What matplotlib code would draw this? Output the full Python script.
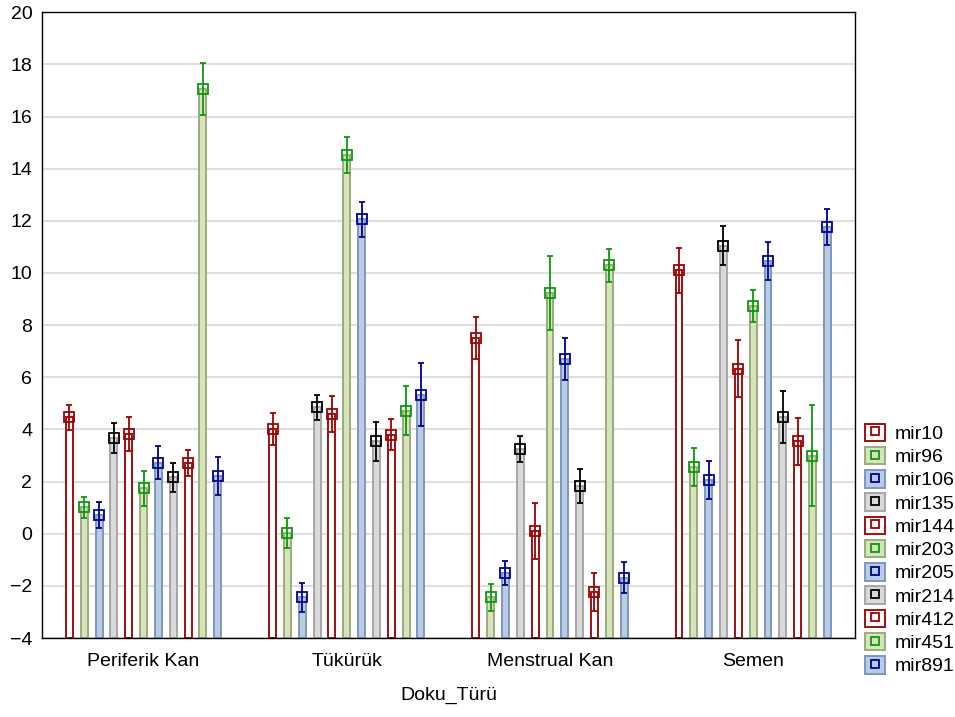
import numpy as np
import matplotlib
matplotlib.use("Agg")
import matplotlib.pyplot as plt
from matplotlib.patches import Rectangle
from matplotlib.lines import Line2D

plt.rcParams["font.family"] = ["Liberation Sans", "DejaVu Sans"]

# ── data ─────────────────────────────────────────────────────────────────────
groups = ["Periferik Kan", "Tükürük", "Menstrual Kan", "Semen"]
series = ["mir10", "mir96", "mir106", "mir135", "mir144", "mir203",
          "mir205", "mir214", "mir412", "mir451", "mir891"]

mir10 = [4.46, 4.03, 7.51, 10.10]
mir96 = [1.01, 0.03, -2.43, 2.56]
mir106 = [0.71, -2.44, -1.50, 2.06]
mir135 = [3.67, 4.85, 3.25, 11.04]
mir144 = [3.82, 4.60, 0.10, 6.33]
mir203 = [1.75, 14.53, 9.24, 8.74]
mir205 = [2.73, 12.06, 6.70, 10.47]
mir214 = [2.17, 3.54, 1.83, 4.49]
mir412 = [2.73, 3.80, -2.24, 3.54]
mir451 = [17.04, 4.72, 10.29, 2.99]
mir891 = [2.23, 5.34, -1.68, 11.78]

err10 = [0.47, 0.62, 0.80, 0.85]
err96 = [0.41, 0.56, 0.52, 0.73]
err106 = [0.50, 0.56, 0.45, 0.72]
err135 = [0.57, 0.48, 0.50, 0.75]
err144 = [0.65, 0.70, 1.07, 1.10]
err203 = [0.67, 0.69, 1.43, 0.60]
err205 = [0.63, 0.67, 0.80, 0.73]
err214 = [0.55, 0.74, 0.64, 1.00]
err412 = [0.50, 0.60, 0.72, 0.90]
err451 = [1.00, 0.93, 0.63, 1.94]
err891 = [0.73, 1.19, 0.60, 0.69]

means = [mir10, mir96, mir106, mir135, mir144, mir203,
         mir205, mir214, mir412, mir451, mir891]
errs = [err10, err96, err106, err135, err144, err203,
        err205, err214, err412, err451, err891]

# style per colour family: (bar fill, bar edge, marker colour)
RED = ("#ffffff", "#9e1010", "#a00000")
GREEN = ("#d7e3bb", "#9aab7c", "#0c980c")
BLUE = ("#b8cce4", "#7d97bd", "#000090")
GREY = ("#d9d9d9", "#a6a6a6", "#000000")
styles = [RED, GREEN, BLUE, GREY, RED, GREEN, BLUE, GREY, RED, GREEN, BLUE]

YMIN, YMAX = -4, 20

# ── figure ───────────────────────────────────────────────────────────────────
fig = plt.figure(figsize=(9.55, 7.17), dpi=100)
ax = fig.add_axes([0.044, 0.110, 0.851, 0.873])

x = np.arange(len(groups))
step = 0.073
width = 0.034
n = len(series)

handles = []
for i, (name, m, e, st) in enumerate(zip(series, means, errs, styles)):
    fill, edge, mc = st
    xs = x + (i - (n - 1) / 2) * step
    m = np.array(m)
    ax.bar(xs, m - YMIN, bottom=YMIN, width=width, color=fill,
           edgecolor=edge, linewidth=1.4, zorder=2)
    ax.errorbar(xs, m, yerr=e, fmt="s", mfc="none", mec=mc, ms=7,
                mew=1.3, ecolor=mc, elinewidth=1.3, capsize=2.5,
                capthick=1.3, zorder=3)
    patch = Rectangle((0, 0), 1, 1, facecolor=fill, edgecolor=edge, linewidth=1.4)
    mark = Line2D([], [], marker="s", mfc="none", mec=mc, ms=6, mew=1.3,
                  linestyle="None")
    handles.append((patch, mark))

ax.set_xlim(-0.5, 3.5)
ax.set_ylim(YMIN, YMAX)
ax.set_yticks(np.arange(YMIN, YMAX + 1, 2))
ax.set_xticks(x)
ax.set_xticklabels(groups)
ax.tick_params(axis="x", direction="in", length=4, width=1, labelsize=14, pad=11)
ax.tick_params(axis="y", length=0, labelsize=14, pad=7)
ax.yaxis.grid(True, color="#d9d9d9", linewidth=1.2, zorder=0)
ax.set_axisbelow(True)
for sp in ax.spines.values():
    sp.set_color("black")
    sp.set_linewidth(1.0)
ax.set_xlabel("Doku_Türü", fontsize=14, labelpad=12)

fig.legend(handles, series, loc="upper left", bbox_to_anchor=(0.898, 0.42),
           frameon=False, fontsize=14, handlelength=1.0, handleheight=1.0,
           handletextpad=0.5, labelspacing=0.2, borderaxespad=0)

fig.savefig("out.png", dpi=100)
